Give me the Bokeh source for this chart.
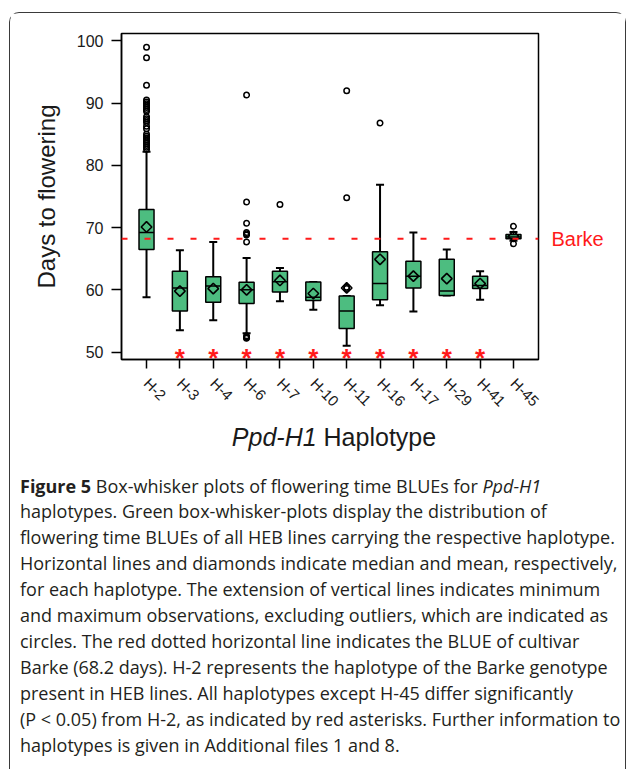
import numpy as np
from bokeh.plotting import figure
from bokeh.layouts import column
from bokeh.models import Range1d, FixedTicker, Span, LinearAxis, ColumnDataSource, Div
from bokeh.core.properties import value
from bokeh.embed import file_html
from bokeh.resources import INLINE

# ---------------- data ----------------
haplotypes = ["H-2", "H-3", "H-4", "H-6", "H-7", "H-10", "H-11", "H-16", "H-17", "H-29", "H-41", "H-45"]
q1         = [66.5, 56.6, 58.0, 57.8, 59.65, 58.3, 53.8, 58.4, 60.3, 59.1, 60.2, 68.2]
q3         = [72.9, 63.0, 62.1, 61.2, 63.0, 61.25, 59.0, 66.1, 64.6, 64.9, 62.2, 68.9]
median     = [69.2, 60.3, 60.6, 60.0, 61.3, 58.8, 56.6, 61.0, 62.2, 59.8, 60.7, 68.5]
mean       = [70.1, 59.8, 60.2, 60.0, 61.5, 59.4, 60.3, 64.9, 62.2, 61.8, 61.0, 68.6]
whisker_lo = [58.8, 53.5, 55.1, 53.0, 58.15, 56.8, 51.0, 57.5, 56.5, 59.1, 58.4, 67.9]
whisker_hi = [82.2, 66.35, 67.7, 65.1, 63.5, 61.25, 59.0, 76.9, 69.2, 66.5, 63.0, 69.3]

outliers_H2 = [99.0, 97.3, 92.9, 90.5, 90.2, 89.9, 89.6, 89.3, 89.0, 88.7, 87.8, 87.5, 87.2,
               86.9, 86.3, 85.9, 85.0, 84.7, 84.4, 84.1, 83.8, 83.5, 83.2, 82.9, 82.6]
outliers_H6 = [91.3, 74.1, 70.7, 69.2, 69.0, 68.8, 67.7, 52.6, 52.4, 52.3, 52.2]
outliers_H7 = [73.7]
outliers_H11 = [92.0, 74.8, 60.4, 60.2]
outliers_H16 = [86.8]
outliers_H45 = [70.2, 67.4]
outliers = {"H-2": outliers_H2, "H-6": outliers_H6, "H-7": outliers_H7,
            "H-11": outliers_H11, "H-16": outliers_H16, "H-45": outliers_H45}

significant = [False, True, True, True, True, True, True, True, True, True, True, False]
barke = 68.2
y_ticks = [50, 60, 70, 80, 90, 100]

caption_first = ["Figure 5", "Box-whisker plots of flowering time BLUEs for", "Ppd-H1"]
caption_lines = [
    "haplotypes. Green box-whisker-plots display the distribution of",
    "flowering time BLUEs of all HEB lines carrying the respective haplotype.",
    "Horizontal lines and diamonds indicate median and mean, respectively,",
    "for each haplotype. The extension of vertical lines indicates minimum",
    "and maximum observations, excluding outliers, which are indicated as",
    "circles. The red dotted horizontal line indicates the BLUE of cultivar",
    "Barke (68.2 days). H-2 represents the haplotype of the Barke genotype",
    "present in HEB lines. All haplotypes except H-45 differ significantly",
    "(P &lt; 0.05) from H-2, as indicated by red asterisks. Further information to",
    "haplotypes is given in Additional files 1 and 8.",
]

# ---------------- styling ----------------
GREEN = "#4dbd80"
INK = "#1a1a1a"
RED = "#ff1a1a"
CAP = "#231f20"
AXF = "Liberation Sans"

OX, OY = 11, 13.5          # page offset of the content inside the rounded border
WA, HA = 615, 407          # upper (plot) figure
HB = int(770 - OY - HA)    # lower (caption) block

# ---------------- box plot ----------------
p = figure(width=WA, height=HA, output_backend="svg", toolbar_location=None,
           x_range=Range1d(0.25, 12.75), y_range=Range1d(48.8, 101.2),
           min_border_left=111, min_border_right=87, min_border_top=20, min_border_bottom=61)
p.grid.visible = False
p.outline_line_color = "black"
p.outline_line_width = 1.5
p.background_fill_color = "white"
p.border_fill_color = "white"

xs = list(range(1, len(haplotypes) + 1))
src = ColumnDataSource(dict(
    x=xs, q1=q1, q3=q3, med=median, mean=mean, lo=whisker_lo, hi=whisker_hi,
    xl=[x - 0.225 for x in xs], xr=[x + 0.225 for x in xs],
    cl=[x - 0.12 for x in xs], cr=[x + 0.12 for x in xs],
))

p.segment(x0="x", y0="q3", x1="x", y1="hi", source=src, line_color="black", line_width=2)
p.segment(x0="x", y0="q1", x1="x", y1="lo", source=src, line_color="black", line_width=2)
p.segment(x0="cl", y0="hi", x1="cr", y1="hi", source=src, line_color="black", line_width=2)
p.segment(x0="cl", y0="lo", x1="cr", y1="lo", source=src, line_color="black", line_width=2)
p.vbar(x="x", width=0.45, bottom="q1", top="q3", source=src,
       fill_color=GREEN, line_color="black", line_width=1.5)
p.segment(x0="xl", y0="med", x1="xr", y1="med", source=src, line_color="black", line_width=1.5)
p.scatter(x="x", y="mean", source=src, marker="square", angle=np.pi / 4, size=7.5,
          fill_color=None, line_color="black", line_width=1.6)

ox, oy = [], []
for i, h in enumerate(haplotypes):
    for v in outliers.get(h, []):
        ox.append(i + 1)
        oy.append(v)
p.scatter(x=ox, y=oy, marker="circle", size=5.5, fill_color=None,
          line_color="black", line_width=1.5)

sx = [i + 1 for i, s in enumerate(significant) if s]
p.text(x=sx, y=[50] * len(sx), text=["*"] * len(sx), text_color=RED,
       text_font=value(AXF), text_font_size="26px", text_font_style="bold",
       text_align="center", text_baseline="middle", y_offset=6)

p.add_layout(Span(location=barke, dimension="width", line_color=RED,
                  line_dash="6 17", line_width=2))

# y axis
p.yaxis.ticker = FixedTicker(ticks=y_ticks)
p.yaxis.major_label_text_font = AXF
p.yaxis.major_label_text_font_size = "16px"
p.yaxis.major_label_text_color = INK
p.yaxis.major_label_standoff = 8
p.yaxis.major_tick_out = 10
p.yaxis.major_tick_in = 0
p.yaxis.major_tick_line_width = 1.5
p.yaxis.axis_line_width = 1.5
p.yaxis.axis_label = "Days to flowering"
p.yaxis.axis_label_text_font = AXF
p.yaxis.axis_label_text_font_style = "normal"
p.yaxis.axis_label_text_font_size = "24px"
p.yaxis.axis_label_text_color = INK
p.yaxis.axis_label_standoff = 14

# x axis
p.xaxis.ticker = FixedTicker(ticks=xs)
p.xaxis.major_label_overrides = {x: h for x, h in zip(xs, haplotypes)}
p.xaxis.major_label_orientation = -np.pi / 4
p.xaxis.major_label_text_font = AXF
p.xaxis.major_label_text_font_size = "15px"
p.xaxis.major_label_text_color = INK
p.xaxis.major_label_standoff = 12
p.xaxis.major_tick_out = 9
p.xaxis.major_tick_in = 0
p.xaxis.major_tick_line_width = 1.5
p.xaxis.axis_line_width = 1.5

# right axis carrying the "Barke" reference label
ra = LinearAxis(ticker=FixedTicker(ticks=[barke]),
                major_label_overrides={barke: "Barke"},
                major_label_text_color=RED, major_label_text_font=AXF,
                major_label_text_font_size="20px", major_label_standoff=13,
                major_tick_out=0, major_tick_in=0, major_tick_line_color=None,
                axis_line_color=None)
p.add_layout(ra, "right")

# ---------------- x title + caption (HTML text) ----------------
title_cx = 335 - OX
title_cy = 438 - OY - HA
cap_top = 487 - OY - HA - 13
first_line = ("<b>%s</b> %s <i>%s</i>" % tuple(caption_first))
caption_html = "<br>".join([first_line] + caption_lines)

html = (
    '<div style="position:relative;width:%dpx;height:%dpx;color:%s;">' % (WA, HB, CAP)
    + '<div style="position:absolute;left:%.1fpx;top:%.1fpx;transform:translate(-50%%,-50%%);'
      'white-space:nowrap;font-family:\'Liberation Sans\';font-size:25px;color:%s;">'
      '<i>Ppd-H1</i> Haplotype</div>' % (title_cx, title_cy, INK)
    + '<div style="position:absolute;left:10px;top:%.1fpx;white-space:nowrap;'
      'font-family:\'Open Sans\';font-size:18px;line-height:25.9px;">%s</div>' % (cap_top, caption_html)
    + '</div>'
)
cap = Div(text=html, width=WA, height=HB, margin=0)

layout = column(p, cap, spacing=0, margin=(12, 0, 0, 9),
                styles={"border": "1.5px solid #3a3a3a", "border-bottom": "none",
                        "border-radius": "10px 10px 0 0", "background-color": "white"})

open("out.html", "w").write(file_html(layout, INLINE))
